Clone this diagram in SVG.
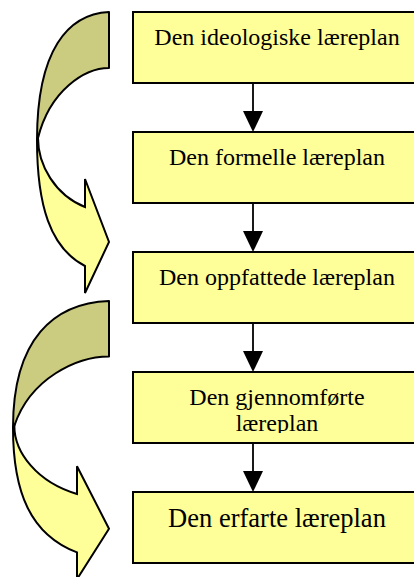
<svg xmlns="http://www.w3.org/2000/svg" width="414" height="577" viewBox="0 0 414 577">
  <style>
    .box { fill: #FFFF99; stroke: #000; stroke-width: 2; }
    .lbl { font-family: "Liberation Serif", "Times New Roman", serif; font-size: 24px; fill: #000; text-anchor: middle; }
    .back { fill: #CCCC80; stroke: #000; stroke-width: 2; stroke-linejoin: round; }
    .front { fill: #FFFF99; stroke: #000; stroke-width: 2; stroke-linejoin: miter; }
    .link { stroke: #000; stroke-width: 1.8; fill: none; }
    .head { fill: #000; }
  </style>
  <defs>
    <!-- curved right arrow: shaded back band + light front band with head -->
    <g id="curved-arrow">
      <path class="back" vector-effect="non-scaling-stroke" d="M109,12 C68,14 37,50 37,140 L38,138 C50,90 85,68 109,68 Z"/>
      <path class="front" vector-effect="non-scaling-stroke" d="M38,138 C38,165 55,195 85,207 L85,179 L109,242 L85,293 L85,266 C50,248 37,205 37,140 Z"/>
    </g>
    <clipPath id="clip-box4">
      <rect x="133" y="372" width="290" height="61"/>
    </clipPath>
  </defs>

  <!-- side arrows -->
  <g id="cycle-arrow-1">
    <use href="#curved-arrow"/>
  </g>
  <g id="cycle-arrow-2">
    <use href="#curved-arrow" transform="translate(-36.33,289.1) scale(1.3333,0.99)"/>
  </g>

  <!-- connectors between the stages -->
  <g id="connectors">
    <line class="link" x1="253" y1="83" x2="253" y2="112"/>
    <polygon class="head" points="243,111 263,111 253,132"/>
    <line class="link" x1="253" y1="203" x2="253" y2="232"/>
    <polygon class="head" points="243,231 263,231 253,252"/>
    <line class="link" x1="253" y1="323" x2="253" y2="352"/>
    <polygon class="head" points="243,351 263,351 253,372"/>
    <line class="link" x1="253" y1="443" x2="253" y2="472"/>
    <polygon class="head" points="243,471 263,471 253,492"/>
  </g>

  <!-- stages -->
  <g id="ideologiske">
    <rect class="box" x="133" y="12" width="290" height="71"/>
    <text class="lbl" x="277" y="45">Den ideologiske læreplan</text>
  </g>
  <g id="formelle">
    <rect class="box" x="133" y="132" width="290" height="71"/>
    <text class="lbl" x="277" y="165">Den formelle læreplan</text>
  </g>
  <g id="oppfattede">
    <rect class="box" x="133" y="252" width="290" height="71"/>
    <text class="lbl" x="277" y="285">Den oppfattede læreplan</text>
  </g>
  <g id="gjennomforte">
    <rect class="box" x="133" y="372" width="290" height="71"/>
    <g clip-path="url(#clip-box4)">
      <text class="lbl" x="277" y="405">Den gjennomførte</text>
      <text class="lbl" x="277" y="431">læreplan</text>
    </g>
  </g>
  <g id="erfarte">
    <rect class="box" x="133" y="492" width="290" height="71"/>
    <text class="lbl" x="277" y="527" style="font-size:26.5px">Den erfarte læreplan</text>
  </g>
</svg>
